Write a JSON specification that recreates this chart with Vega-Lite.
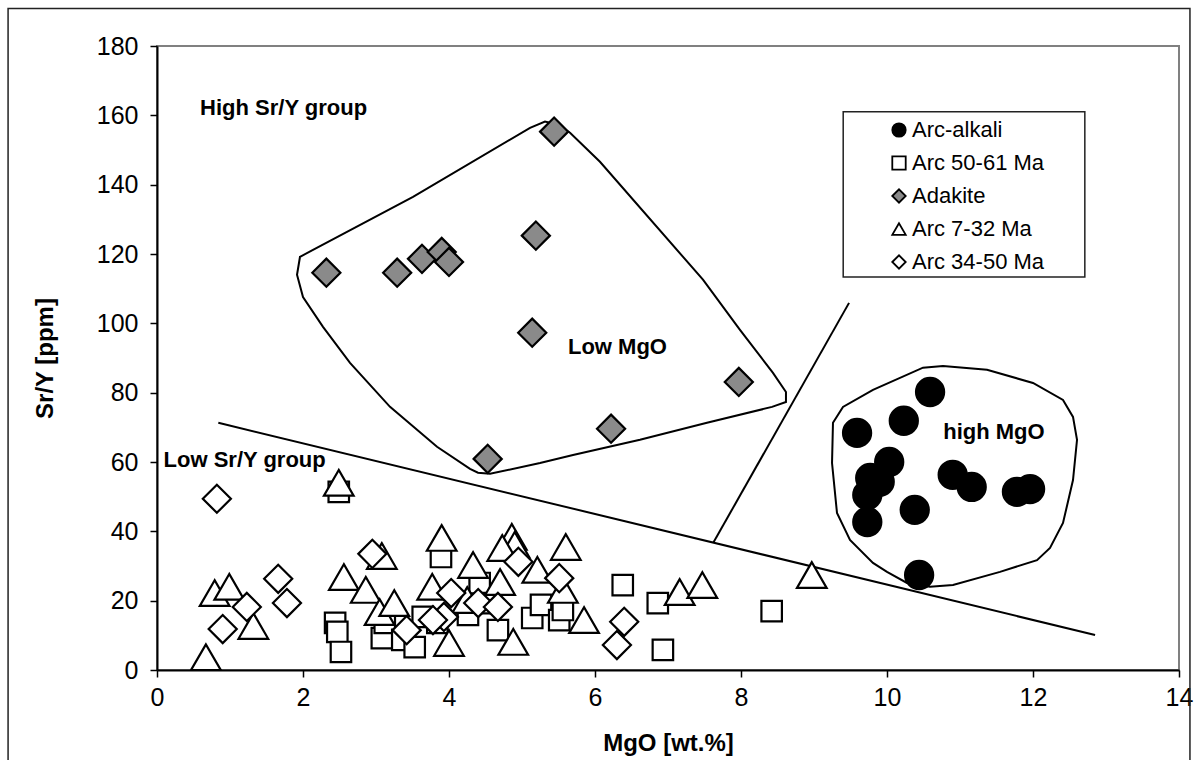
{
  "$schema": "https://vega.github.io/schema/vega-lite/v6.json",
  "width": 1022,
  "height": 624,
  "autosize": {"type": "none"},
  "padding": {"left": 157, "top": 46, "right": 16, "bottom": 90},
  "background": "white",
  "config": {
    "font": "Liberation Sans",
    "view": {"stroke": "#808080", "strokeWidth": 2},
    "legend": {
      "title": null, "orient": "none", "legendX": 731, "legendY": 73,
      "padding": 0, "labelFont": "Liberation Sans", "labelFontSize": 22,
      "labelColor": "#000", "labelOffset": 2, "rowPadding": 11,
      "symbolSize": 180, "symbolStrokeColor": "#000", "symbolStrokeWidth": 1.8
    }
  },
  "datasets": {
    "pts": [
      {"series": "Arc-alkali", "x": 10.59, "y": 80.2},
      {"series": "Arc-alkali", "x": 10.23, "y": 71.9},
      {"series": "Arc-alkali", "x": 9.59, "y": 68.4},
      {"series": "Arc-alkali", "x": 10.03, "y": 60.0},
      {"series": "Arc-alkali", "x": 9.77, "y": 55.4},
      {"series": "Arc-alkali", "x": 9.90, "y": 54.3},
      {"series": "Arc-alkali", "x": 9.73, "y": 50.5},
      {"series": "Arc-alkali", "x": 9.73, "y": 42.7},
      {"series": "Arc-alkali", "x": 10.38, "y": 46.2},
      {"series": "Arc-alkali", "x": 10.90, "y": 56.3},
      {"series": "Arc-alkali", "x": 11.16, "y": 52.8},
      {"series": "Arc-alkali", "x": 11.78, "y": 51.4},
      {"series": "Arc-alkali", "x": 11.96, "y": 52.2},
      {"series": "Arc-alkali", "x": 10.44, "y": 27.4},
      {"series": "Arc 50-61 Ma", "x": 2.49, "y": 51.4},
      {"series": "Arc 50-61 Ma", "x": 2.44, "y": 13.6},
      {"series": "Arc 50-61 Ma", "x": 2.47, "y": 11.0},
      {"series": "Arc 50-61 Ma", "x": 2.52, "y": 5.2},
      {"series": "Arc 50-61 Ma", "x": 3.08, "y": 9.2},
      {"series": "Arc 50-61 Ma", "x": 3.12, "y": 13.6},
      {"series": "Arc 50-61 Ma", "x": 3.36, "y": 8.7},
      {"series": "Arc 50-61 Ma", "x": 3.53, "y": 6.6},
      {"series": "Arc 50-61 Ma", "x": 3.64, "y": 15.3},
      {"series": "Arc 50-61 Ma", "x": 3.89, "y": 32.6},
      {"series": "Arc 50-61 Ma", "x": 3.84, "y": 13.6},
      {"series": "Arc 50-61 Ma", "x": 4.26, "y": 15.9},
      {"series": "Arc 50-61 Ma", "x": 4.42, "y": 25.1},
      {"series": "Arc 50-61 Ma", "x": 4.56, "y": 19.3},
      {"series": "Arc 50-61 Ma", "x": 4.67, "y": 11.5},
      {"series": "Arc 50-61 Ma", "x": 5.14, "y": 15.0},
      {"series": "Arc 50-61 Ma", "x": 5.26, "y": 18.8},
      {"series": "Arc 50-61 Ma", "x": 5.51, "y": 14.4},
      {"series": "Arc 50-61 Ma", "x": 5.56, "y": 17.3},
      {"series": "Arc 50-61 Ma", "x": 6.38, "y": 24.5},
      {"series": "Arc 50-61 Ma", "x": 6.86, "y": 19.3},
      {"series": "Arc 50-61 Ma", "x": 6.93, "y": 5.8},
      {"series": "Arc 50-61 Ma", "x": 8.42, "y": 17.0},
      {"series": "Adakite", "x": 2.32, "y": 114.6},
      {"series": "Adakite", "x": 3.29, "y": 114.6},
      {"series": "Adakite", "x": 3.63, "y": 118.6},
      {"series": "Adakite", "x": 3.90, "y": 120.6},
      {"series": "Adakite", "x": 4.00, "y": 117.7},
      {"series": "Adakite", "x": 5.19, "y": 125.3},
      {"series": "Adakite", "x": 5.44, "y": 155.3},
      {"series": "Adakite", "x": 5.14, "y": 97.3},
      {"series": "Adakite", "x": 4.53, "y": 60.9},
      {"series": "Adakite", "x": 6.22, "y": 69.6},
      {"series": "Adakite", "x": 7.97, "y": 83.1},
      {"series": "Arc 7-32 Ma", "x": 2.49, "y": 54.0},
      {"series": "Arc 7-32 Ma", "x": 0.79, "y": 22.2},
      {"series": "Arc 7-32 Ma", "x": 0.99, "y": 24.0},
      {"series": "Arc 7-32 Ma", "x": 0.67, "y": 3.7},
      {"series": "Arc 7-32 Ma", "x": 1.32, "y": 12.7},
      {"series": "Arc 7-32 Ma", "x": 3.08, "y": 32.9},
      {"series": "Arc 7-32 Ma", "x": 2.56, "y": 26.8},
      {"series": "Arc 7-32 Ma", "x": 2.86, "y": 23.1},
      {"series": "Arc 7-32 Ma", "x": 3.05, "y": 16.7},
      {"series": "Arc 7-32 Ma", "x": 3.25, "y": 19.3},
      {"series": "Arc 7-32 Ma", "x": 3.90, "y": 38.1},
      {"series": "Arc 7-32 Ma", "x": 3.77, "y": 24.0},
      {"series": "Arc 7-32 Ma", "x": 4.00, "y": 7.8},
      {"series": "Arc 7-32 Ma", "x": 4.33, "y": 30.3},
      {"series": "Arc 7-32 Ma", "x": 4.25, "y": 20.2},
      {"series": "Arc 7-32 Ma", "x": 4.70, "y": 25.4},
      {"series": "Arc 7-32 Ma", "x": 4.86, "y": 38.4},
      {"series": "Arc 7-32 Ma", "x": 4.90, "y": 36.1},
      {"series": "Arc 7-32 Ma", "x": 4.73, "y": 35.2},
      {"series": "Arc 7-32 Ma", "x": 4.88, "y": 8.1},
      {"series": "Arc 7-32 Ma", "x": 5.21, "y": 28.9},
      {"series": "Arc 7-32 Ma", "x": 5.60, "y": 35.5},
      {"series": "Arc 7-32 Ma", "x": 5.56, "y": 23.1},
      {"series": "Arc 7-32 Ma", "x": 5.85, "y": 14.4},
      {"series": "Arc 7-32 Ma", "x": 7.16, "y": 22.5},
      {"series": "Arc 7-32 Ma", "x": 7.47, "y": 24.5},
      {"series": "Arc 7-32 Ma", "x": 8.97, "y": 27.4},
      {"series": "Arc 34-50 Ma", "x": 0.82, "y": 49.4},
      {"series": "Arc 34-50 Ma", "x": 1.23, "y": 18.2},
      {"series": "Arc 34-50 Ma", "x": 0.90, "y": 11.8},
      {"series": "Arc 34-50 Ma", "x": 1.66, "y": 26.3},
      {"series": "Arc 34-50 Ma", "x": 1.78, "y": 19.3},
      {"series": "Arc 34-50 Ma", "x": 2.95, "y": 33.5},
      {"series": "Arc 34-50 Ma", "x": 3.42, "y": 11.5},
      {"series": "Arc 34-50 Ma", "x": 4.03, "y": 22.2},
      {"series": "Arc 34-50 Ma", "x": 3.93, "y": 15.3},
      {"series": "Arc 34-50 Ma", "x": 3.78, "y": 14.4},
      {"series": "Arc 34-50 Ma", "x": 4.40, "y": 19.3},
      {"series": "Arc 34-50 Ma", "x": 4.67, "y": 18.2},
      {"series": "Arc 34-50 Ma", "x": 4.95, "y": 31.2},
      {"series": "Arc 34-50 Ma", "x": 5.51, "y": 26.5},
      {"series": "Arc 34-50 Ma", "x": 6.40, "y": 13.9},
      {"series": "Arc 34-50 Ma", "x": 6.30, "y": 7.2}
    ],
    "fields": [
      {"grp": "adakite", "i": 1, "x": 1.959, "y": 119.2},
      {"grp": "adakite", "i": 2, "x": 2.137, "y": 121.2},
      {"grp": "adakite", "i": 3, "x": 3.507, "y": 136.5},
      {"grp": "adakite", "i": 4, "x": 5.110, "y": 156.4},
      {"grp": "adakite", "i": 5, "x": 5.315, "y": 158.2},
      {"grp": "adakite", "i": 6, "x": 5.493, "y": 157.3},
      {"grp": "adakite", "i": 7, "x": 5.658, "y": 155.0},
      {"grp": "adakite", "i": 8, "x": 6.068, "y": 146.6},
      {"grp": "adakite", "i": 9, "x": 7.479, "y": 112.6},
      {"grp": "adakite", "i": 10, "x": 7.986, "y": 98.1},
      {"grp": "adakite", "i": 11, "x": 8.438, "y": 85.7},
      {"grp": "adakite", "i": 12, "x": 8.616, "y": 80.2},
      {"grp": "adakite", "i": 13, "x": 8.616, "y": 77.3},
      {"grp": "adakite", "i": 14, "x": 8.425, "y": 75.9},
      {"grp": "adakite", "i": 15, "x": 7.534, "y": 71.3},
      {"grp": "adakite", "i": 16, "x": 6.616, "y": 66.4},
      {"grp": "adakite", "i": 17, "x": 5.699, "y": 62.0},
      {"grp": "adakite", "i": 18, "x": 5.247, "y": 59.7},
      {"grp": "adakite", "i": 19, "x": 4.562, "y": 56.6},
      {"grp": "adakite", "i": 20, "x": 4.397, "y": 56.9},
      {"grp": "adakite", "i": 21, "x": 4.288, "y": 58.0},
      {"grp": "adakite", "i": 22, "x": 3.836, "y": 64.4},
      {"grp": "adakite", "i": 23, "x": 3.192, "y": 75.9},
      {"grp": "adakite", "i": 24, "x": 2.644, "y": 88.6},
      {"grp": "adakite", "i": 25, "x": 2.274, "y": 99.0},
      {"grp": "adakite", "i": 26, "x": 2.000, "y": 107.6},
      {"grp": "adakite", "i": 27, "x": 1.918, "y": 114.0},
      {"grp": "highmgo", "i": 1, "x": 9.260, "y": 71.3},
      {"grp": "highmgo", "i": 2, "x": 9.397, "y": 75.9},
      {"grp": "highmgo", "i": 3, "x": 9.808, "y": 80.8},
      {"grp": "highmgo", "i": 4, "x": 10.493, "y": 87.2},
      {"grp": "highmgo", "i": 5, "x": 10.767, "y": 87.7},
      {"grp": "highmgo", "i": 6, "x": 11.370, "y": 86.6},
      {"grp": "highmgo", "i": 7, "x": 12.000, "y": 82.8},
      {"grp": "highmgo", "i": 8, "x": 12.411, "y": 77.9},
      {"grp": "highmgo", "i": 9, "x": 12.548, "y": 73.0},
      {"grp": "highmgo", "i": 10, "x": 12.603, "y": 66.4},
      {"grp": "highmgo", "i": 11, "x": 12.548, "y": 54.8},
      {"grp": "highmgo", "i": 12, "x": 12.411, "y": 42.4},
      {"grp": "highmgo", "i": 13, "x": 12.233, "y": 35.2},
      {"grp": "highmgo", "i": 14, "x": 12.055, "y": 31.7},
      {"grp": "highmgo", "i": 15, "x": 11.548, "y": 28.3},
      {"grp": "highmgo", "i": 16, "x": 10.904, "y": 24.5},
      {"grp": "highmgo", "i": 17, "x": 10.589, "y": 24.0},
      {"grp": "highmgo", "i": 18, "x": 10.274, "y": 25.1},
      {"grp": "highmgo", "i": 19, "x": 10.000, "y": 28.3},
      {"grp": "highmgo", "i": 20, "x": 9.808, "y": 30.9},
      {"grp": "highmgo", "i": 21, "x": 9.493, "y": 37.5},
      {"grp": "highmgo", "i": 22, "x": 9.315, "y": 45.3},
      {"grp": "highmgo", "i": 23, "x": 9.247, "y": 59.7}
    ],
    "lines": [
      {"grp": "divider", "i": 1, "x": 0.84, "y": 71.3},
      {"grp": "divider", "i": 2, "x": 12.85, "y": 10.1},
      {"grp": "branch", "i": 1, "x": 7.62, "y": 36.7},
      {"grp": "branch", "i": 2, "x": 9.48, "y": 105.9}
    ],
    "labels": [
      {"label": "High Sr/Y group", "x": 0.59, "y": 162.2},
      {"label": "Low Sr/Y group", "x": 0.09, "y": 60.6},
      {"label": "Low MgO", "x": 5.63, "y": 93.2},
      {"label": "high MgO", "x": 10.77, "y": 68.7}
    ],
    "boxes": [
      {"box": "chart", "x": -2.04, "x2": 14.15, "y": 190.8, "y2": -30},
      {"box": "legend", "x": 9.40, "x2": 12.71, "y": 161.0, "y2": 113.4}
    ]
  },
  "encoding": {
    "x": {
      "field": "x", "type": "quantitative",
      "scale": {"domain": [0, 14], "nice": false, "zero": false},
      "axis": {
        "title": "MgO [wt.%]", "values": [0, 2, 4, 6, 8, 10, 12, 14],
        "grid": false, "labelFontSize": 25, "labelColor": "#000",
        "labelFont": "Liberation Sans", "labelPadding": 8, "labelFlush": false,
        "tickSize": 7, "tickColor": "#000", "tickWidth": 1.5,
        "domainColor": "#000", "domainWidth": 2,
        "titleFont": "Liberation Sans", "titleFontSize": 24, "titleFontWeight": "bold",
        "titleColor": "#000", "titlePadding": 21
      }
    },
    "y": {
      "field": "y", "type": "quantitative",
      "scale": {"domain": [0, 180], "nice": false, "zero": false},
      "axis": {
        "title": "Sr/Y [ppm]", "values": [0, 20, 40, 60, 80, 100, 120, 140, 160, 180],
        "grid": false, "labelFontSize": 25, "labelColor": "#000",
        "labelFont": "Liberation Sans", "labelPadding": 12, "labelFlush": false,
        "tickSize": 7, "tickColor": "#000", "tickWidth": 1.5,
        "domainColor": "#000", "domainWidth": 2,
        "titleFont": "Liberation Sans", "titleFontSize": 24, "titleFontWeight": "bold",
        "titleColor": "#000", "titlePadding": 39
      }
    }
  },
  "layer": [
    {
      "data": {"name": "boxes"},
      "mark": {"type": "rect", "fill": "white", "stroke": "#222", "strokeWidth": 1.5, "clip": false},
      "encoding": {
        "x2": {"field": "x2"},
        "y2": {"field": "y2"},
        "fillOpacity": {"condition": {"test": "datum.box === 'chart'", "value": 0}, "value": 1}
      }
    },
    {
      "data": {"name": "fields"},
      "mark": {"type": "line", "interpolate": "linear-closed", "stroke": "#000", "strokeWidth": 2},
      "encoding": {
        "detail": {"field": "grp"},
        "order": {"field": "i", "type": "quantitative"}
      }
    },
    {
      "data": {"name": "lines"},
      "mark": {"type": "line", "stroke": "#000", "strokeWidth": 2},
      "encoding": {
        "detail": {"field": "grp"},
        "order": {"field": "i", "type": "quantitative"}
      }
    },
    {
      "data": {"name": "labels"},
      "mark": {"type": "text", "align": "left", "baseline": "middle", "font": "Liberation Sans", "fontSize": 22, "fontWeight": "bold", "color": "#000"},
      "encoding": {"text": {"field": "label"}}
    },
    {
      "data": {"name": "pts"},
      "mark": {"type": "point", "filled": true, "strokeWidth": 2.2, "opacity": 1},
      "encoding": {
        "shape": {
          "field": "series", "type": "nominal",
          "scale": {
            "domain": ["Arc-alkali", "Arc 50-61 Ma", "Adakite", "Arc 7-32 Ma", "Arc 34-50 Ma"],
            "range": ["circle", "square", "diamond", "triangle-up", "diamond"]
          }
        },
        "fill": {
          "field": "series", "type": "nominal",
          "scale": {
            "domain": ["Arc-alkali", "Arc 50-61 Ma", "Adakite", "Arc 7-32 Ma", "Arc 34-50 Ma"],
            "range": ["#000000", "#ffffff", "#8a8a8a", "#ffffff", "#ffffff"]
          }
        },
        "stroke": {
          "field": "series", "type": "nominal",
          "scale": {
            "domain": ["Arc-alkali", "Arc 50-61 Ma", "Adakite", "Arc 7-32 Ma", "Arc 34-50 Ma"],
            "range": ["#000000", "#000000", "#000000", "#000000", "#000000"]
          }
        },
        "size": {
          "condition": [
            {"test": "datum.series === 'Arc 50-61 Ma'", "value": 420},
            {"test": "datum.series === 'Arc 7-32 Ma'", "value": 880}
          ],
          "value": 790
        }
      }
    }
  ]
}
